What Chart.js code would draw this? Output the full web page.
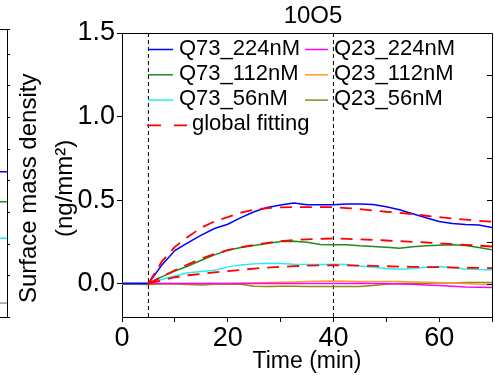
<!DOCTYPE html>
<html><head><meta charset="utf-8">
<script src="https://cdn.jsdelivr.net/npm/chart.js@4.4.1/dist/chart.umd.min.js"></script>
<style>
html,body{margin:0;padding:0;background:#fff;}
#wrap{position:relative;width:495px;height:376px;overflow:hidden;background:#fff;}
#main{position:absolute;left:0;top:0;}
#side{position:absolute;left:0;top:0;}
</style></head><body>
<div id="wrap"><canvas id="main" width="495" height="376"></canvas><canvas id="side" width="12" height="376"></canvas></div>
<script>
const FONT = '"Liberation Sans", Arial, Helvetica, sans-serif';

// ---- data (time in min, surface mass density in ng/mm^2) ----
const time = [0,2.5,5,7.5,10,12.5,15,17.5,20,22.5,25,27.5,30,32.5,35,37.5,40,42.5,45,47.5,50,52.5,55,57.5,60,62.5,65,67.5,70];
const q73_224 = [0,0,0,0.11,0.198,0.245,0.29,0.33,0.355,0.395,0.43,0.456,0.47,0.482,0.472,0.472,0.472,0.476,0.476,0.474,0.46,0.442,0.418,0.394,0.372,0.36,0.354,0.35,0.336];
const q73_112 = [0,0,0,0.04,0.075,0.105,0.14,0.172,0.2,0.216,0.228,0.24,0.252,0.254,0.248,0.234,0.232,0.232,0.226,0.222,0.218,0.212,0.22,0.226,0.23,0.232,0.228,0.216,0.202];
const q73_56  = [0,0,0,0.025,0.045,0.065,0.072,0.08,0.1,0.112,0.118,0.122,0.12,0.116,0.114,0.115,0.116,0.114,0.106,0.098,0.09,0.086,0.09,0.098,0.102,0.096,0.088,0.084,0.082];
const q23_224 = [0,0,0,0,0,0,0,0,0,0,0,0,0,0,0,0,0,0.001,0.002,0.001,0,-0.002,-0.004,-0.008,-0.012,-0.016,-0.02,-0.022,-0.024];
const q23_112 = [0,0,0,0,0,0,0,0,0,0.002,0.004,0.006,0.008,0.01,0.012,0.014,0.016,0.014,0.012,0.012,0.012,0.012,0.01,0.008,0.006,0.004,0,-0.004,-0.006];
const q23_56  = [-0.004,-0.004,-0.006,-0.002,-0.002,-0.006,-0.008,-0.004,-0.002,-0.004,-0.016,-0.018,-0.016,-0.016,-0.018,-0.018,-0.018,-0.018,-0.018,-0.012,-0.004,0,0.002,0.002,0.004,0.004,0.006,0.006,0.006];
const fit224 = [null,null,0,0.13,0.22,0.28,0.335,0.372,0.398,0.425,0.442,0.452,0.456,0.458,0.458,0.458,0.458,0.452,0.446,0.438,0.43,0.424,0.416,0.406,0.398,0.39,0.383,0.376,0.37];
const fit112 = [null,null,0,0.04,0.08,0.115,0.15,0.178,0.2,0.218,0.232,0.244,0.254,0.26,0.265,0.268,0.27,0.268,0.265,0.262,0.258,0.254,0.25,0.246,0.241,0.236,0.232,0.227,0.222];
const fit56  = [null,null,0,0.02,0.038,0.05,0.058,0.067,0.074,0.082,0.09,0.096,0.1,0.104,0.107,0.109,0.11,0.109,0.108,0.106,0.104,0.102,0.1,0.099,0.098,0.096,0.095,0.094,0.092];
const markerTimes = [5, 40];
const xRange = [0, 70];
const yRange = [-0.2, 1.5];
const xTickValues = [0,10,20,30,40,50,60,70];
const xLabelValues = [0,20,40,60];
const yTickValues = [0,0.5,1.0,1.5];
const yRightTickValues = [0,0.25,0.5,0.75,1.0,1.25];
const title = '10O5';
const xTitle = 'Time (min)';
const yTitle = ['Surface mass density', '(ng/mm\u00B2)'];

// neighbouring panel (only its right edge is visible)
const sideLevels = [0.229, 0.134, 0.019, -0.186];
const sideColors = ['#0000ff', '#1f8a1f', '#22eeee', '#999999'];
const sideRange = [-0.23, 0.68];

Chart.defaults.font.family = FONT;
Chart.defaults.color = '#000';

function series(label, values, color, extra) {
  return Object.assign({
    label, data: time.map((t, i) => ({x: t, y: values[i]})),
    borderColor: color, backgroundColor: color, borderWidth: 1.5,
    pointRadius: 0, tension: 0, fill: false, order: 1
  }, extra || {});
}
const FIT = {borderColor: '#ff0000', borderWidth: 1.8, borderDash: [12, 8], order: 0};

const datasets = [
  series('Q73_224nM', q73_224, '#0000ff', {legend: [0, 0]}),
  series('Q73_112nM', q73_112, '#1f8a1f', {legend: [0, 1]}),
  series('Q73_56nM', q73_56, '#22f0f0', {legend: [0, 2]}),
  series('Q23_224nM', q23_224, '#ff00ff', {legend: [1, 0]}),
  series('Q23_112nM', q23_112, '#ff9933', {legend: [1, 1]}),
  series('Q23_56nM', q23_56, '#8a8a10', {legend: [1, 2]}),
  series('global fitting', fit224, '#ff0000', Object.assign({legend: [0, 3], wide: true}, FIT)),
  series('fit112', fit112, '#ff0000', FIT),
  series('fit56', fit56, '#ff0000', FIT),
  ...markerTimes.map(t => ({
    label: 'marker', data: [{x: t, y: yRange[0]}, {x: t, y: yRange[1]}],
    borderColor: '#000', borderWidth: 1, borderDash: [4, 3], pointRadius: 0, order: 2
  }))
];

const framePlugin = {
  id: 'frame',
  afterDatasetsDraw(chart) {
    const {ctx, chartArea: a, scales: {y}} = chart;
    ctx.save();
    ctx.strokeStyle = '#000'; ctx.lineWidth = 1;
    ctx.beginPath();
    ctx.moveTo(a.left, a.top + 0.5); ctx.lineTo(a.right + 0.5, a.top + 0.5);
    ctx.lineTo(a.right + 0.5, a.bottom);
    yRightTickValues.forEach(v => {
      const py = Math.round(y.getPixelForValue(v)) + 0.5;
      ctx.moveTo(a.right, py); ctx.lineTo(a.right - 5, py);
    });
    ctx.stroke();
    ctx.restore();
  },
  afterDraw(chart) {
    const {ctx, chartArea: a} = chart;
    ctx.save();
    // title
    ctx.fillStyle = '#000';
    ctx.font = '24px ' + FONT;
    ctx.textAlign = 'center'; ctx.textBaseline = 'middle';
    ctx.fillText(title, (a.left + a.right) / 2 + 6, 16);
    // legend
    const colX = [a.left + 26, a.left + 183];
    const sampleW = [25, 23];
    ctx.font = '22px ' + FONT;
    ctx.textAlign = 'left';
    chart.data.datasets.forEach(ds => {
      if (!ds.legend) return;
      const [c, r] = ds.legend;
      const yy = a.top + 16.5 + r * 25.3;
      const x0 = colX[c] - (ds.wide ? 1 : 0);
      const w = ds.wide ? 40 : sampleW[c];
      ctx.strokeStyle = ds.borderColor;
      ctx.lineWidth = ds.wide ? 1.8 : 1.5;
      ctx.setLineDash(ds.wide ? [14, 13] : []);
      ctx.beginPath(); ctx.moveTo(x0, yy); ctx.lineTo(x0 + w, yy); ctx.stroke();
      ctx.setLineDash([]);
      ctx.fillStyle = '#000';
      ctx.fillText(ds.label, x0 + w + (ds.wide ? 5 : 6), yy - 1);
    });
    ctx.restore();
  }
};

new Chart(document.getElementById('main'), {
  type: 'line',
  data: {datasets},
  options: {
    responsive: false, animation: false, devicePixelRatio: 1,
    layout: {padding: {top: 33, right: 3, left: 0, bottom: 0}},
    plugins: {legend: {display: false}, tooltip: {enabled: false}, title: {display: false}},
    scales: {
      x: {
        type: 'linear', min: xRange[0], max: xRange[1],
        afterBuildTicks: s => { s.ticks = xTickValues.map(v => ({value: v})); },
        afterFit: s => { s.height = 59; },
        ticks: {font: {size: 27, lineHeight: 1}, padding: 3, color: '#000', maxRotation: 0,
          callback: v => xLabelValues.includes(v) ? String(v) : ''},
        grid: {drawOnChartArea: false, drawTicks: true, tickLength: 5, color: '#000', lineWidth: 1},
        border: {display: true, color: '#000', width: 1},
        title: {display: true, text: xTitle, font: {size: 23, lineHeight: 1.2}, padding: {top: 0, bottom: 1}, color: '#000'}
      },
      y: {
        type: 'linear', min: yRange[0], max: yRange[1],
        afterBuildTicks: s => { s.ticks = yTickValues.map(v => ({value: v})); },
        afterFit: s => { s.width = 122; },
        ticks: {font: {size: 27, lineHeight: 1}, padding: 2, color: '#000', callback: v => v.toFixed(1)},
        grid: {drawOnChartArea: false, drawTicks: true, tickLength: 5, color: '#000', lineWidth: 1},
        border: {display: true, color: '#000', width: 1},
        // trailing spaces centre the title on the full canvas height, as in the original layout
        title: {display: true, text: yTitle.map(s => s + '    '), font: {size: 24, lineHeight: 1.5}, padding: {top: 11, bottom: 0}, color: '#000'}
      }
    }
  },
  plugins: [framePlugin]
});

// neighbouring panel edge
const sideBox = {
  id: 'sideBox',
  afterDatasetsDraw(chart) {
    const {ctx, chartArea: a} = chart;
    ctx.save(); ctx.strokeStyle = '#000'; ctx.lineWidth = 1;
    ctx.beginPath();
    ctx.moveTo(a.left, a.top + 0.5); ctx.lineTo(a.right, a.top + 0.5);
    ctx.moveTo(a.left, a.bottom + 0.5); ctx.lineTo(a.right, a.bottom + 0.5);
    ctx.stroke(); ctx.restore();
  }
};
new Chart(document.getElementById('side'), {
  type: 'line',
  data: {datasets: sideLevels.map((v, i) => ({
    data: [{x: 0, y: v}, {x: 1, y: v}], borderColor: sideColors[i], borderWidth: 1.5, pointRadius: 0
  }))},
  options: {
    responsive: false, animation: false, devicePixelRatio: 1,
    layout: {padding: {top: 29, bottom: 59, left: 0, right: 0}},
    plugins: {legend: {display: false}, tooltip: {enabled: false}},
    scales: {
      x: {type: 'linear', min: 0, max: 1, display: false},
      y: {type: 'linear', position: 'right', min: sideRange[0], max: sideRange[1],
        afterFit: s => { s.width = 5; },
        ticks: {display: false, stepSize: 0.1},
        grid: {drawOnChartArea: false, drawTicks: true, tickLength: 3, color: '#000'},
        border: {display: true, color: '#000', width: 1}}
    }
  },
  plugins: [sideBox]
});
</script>
</body></html>
